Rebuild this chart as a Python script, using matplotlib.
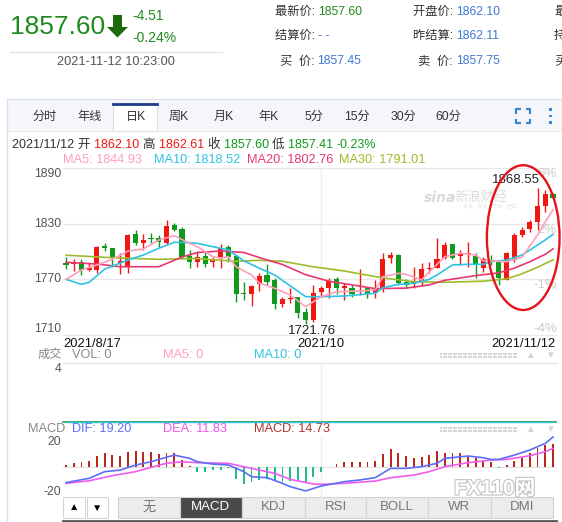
import numpy as np
import matplotlib
matplotlib.use("Agg")
import matplotlib.pyplot as plt
from matplotlib.patches import Rectangle, Polygon, Ellipse
import matplotlib.patheffects as pe

plt.rcParams['font.family'] = ['Liberation Sans', 'Noto Sans CJK SC', 'DejaVu Sans']

# ── data (daily K, 2021/8/17 .. 2021/11/12, 64 sessions) ─────────────────────
opens = [1787.9, 1786.2, 1788.4, 1780.1, 1780.1, 1805.9, 1803.5, 1788.0, 1783.6, 1818.5,
         1809.5, 1814.9, 1814.2, 1809.5, 1828.6, 1824.3, 1795.2, 1789.0, 1795.5, 1788.4,
         1793.8, 1805.2, 1795.5, 1755.0, 1753.9, 1764.7, 1774.7, 1769.3, 1743.1, 1748.5,
         1750.6, 1735.1, 1726.2, 1756.7, 1761.0, 1770.0, 1760.3, 1761.0, 1756.0, 1760.3,
         1755.0, 1759.6, 1792.7, 1796.2, 1767.5, 1764.6, 1767.5, 1780.8, 1782.5, 1793.3,
         1807.8, 1795.5, 1797.0, 1795.5, 1781.9, 1790.8, 1789.0, 1769.3, 1790.8, 1817.8,
         1824.3, 1832.1, 1849.0, 1862.10]
highs = [1794.4, 1791.9, 1791.6, 1787.3, 1805.9, 1808.8, 1804.0, 1798.1, 1818.9, 1823.2,
         1818.9, 1819.6, 1817.8, 1834.0, 1830.4, 1826.7, 1801.6, 1799.8, 1799.1, 1794.4,
         1808.1, 1807.0, 1796.2, 1767.5, 1763.5, 1776.5, 1786.2, 1771.1, 1751.3, 1760.3,
         1751.3, 1738.8, 1763.9, 1763.1, 1771.1, 1772.8, 1766.0, 1763.9, 1781.1, 1762.1,
         1769.3, 1798.1, 1799.8, 1797.3, 1770.3, 1783.6, 1787.9, 1788.4, 1814.2, 1809.9,
         1808.4, 1801.6, 1809.9, 1798.1, 1794.4, 1796.2, 1790.8, 1799.1, 1819.6, 1826.7,
         1834.0, 1868.55, 1866.3, 1862.61]
lows = [1781.1, 1778.9, 1774.7, 1779.0, 1776.5, 1800.9, 1783.0, 1775.4, 1776.5, 1807.0,
        1801.6, 1808.8, 1805.2, 1807.0, 1822.1, 1791.6, 1781.9, 1783.6, 1783.6, 1783.6,
        1781.9, 1789.0, 1745.3, 1747.7, 1741.6, 1757.8, 1763.9, 1737.7, 1740.5, 1744.2,
        1728.0, 1721.76, 1724.3, 1751.3, 1749.6, 1754.0, 1747.7, 1751.3, 1753.1, 1749.9,
        1750.2, 1756.4, 1787.3, 1763.9, 1760.3, 1760.3, 1763.9, 1776.5, 1781.9, 1791.9,
        1791.9, 1785.4, 1783.6, 1771.8, 1778.2, 1785.4, 1763.9, 1769.0, 1789.0, 1816.0,
        1821.3, 1823.2, 1842.9, 1857.41]
closes = [1785.8, 1787.3, 1780.1, 1781.9, 1805.2, 1803.5, 1792.7, 1790.0, 1817.8, 1809.5,
          1812.4, 1813.8, 1809.9, 1827.5, 1823.2, 1794.4, 1789.0, 1793.8, 1786.5, 1791.6,
          1803.5, 1794.4, 1753.9, 1753.9, 1763.1, 1773.6, 1767.5, 1743.1, 1748.8, 1749.6,
          1734.0, 1726.2, 1755.0, 1761.0, 1768.2, 1760.3, 1763.1, 1754.2, 1756.7, 1754.2,
          1759.6, 1791.6, 1796.2, 1766.4, 1763.9, 1767.5, 1780.8, 1782.2, 1791.9, 1807.0,
          1792.7, 1797.0, 1798.1, 1785.5, 1791.9, 1788.4, 1771.1, 1798.7, 1817.8, 1823.2,
          1831.5, 1849.0, 1862.1, 1857.60]

# moving averages (session number, value)
ma5_day = [1, 3, 5, 7, 9, 11, 13, 15, 17, 18, 20, 21, 22, 23, 25, 26, 28, 30, 32, 33,
           34, 36, 39, 41, 42, 44, 45, 47, 48, 50, 52, 54, 55, 58, 60, 62, 63, 64]
ma5_val = [1770.0, 1780.1, 1785.5, 1791.6, 1800.5, 1802.7, 1812.4, 1817.0, 1808.8, 1805.2,
           1794.4, 1792.7, 1794.4, 1783.6, 1774.7, 1766.0, 1760.3, 1753.1, 1740.5, 1745.9,
           1751.3, 1756.7, 1757.4, 1758.5, 1772.8, 1776.5, 1775.4, 1769.3, 1778.0, 1794.4,
           1798.1, 1796.2, 1790.0, 1789.0, 1794.0, 1817.8, 1832.0, 1844.93]
ma10_day = [1, 3, 4, 6, 9, 11, 13, 15, 17, 18, 20, 22, 24, 26, 28, 30, 32, 34, 37, 41,
            42, 44, 46, 48, 49, 51, 53, 55, 56, 58, 60, 61, 63, 64]
ma10_val = [1770.0, 1764.6, 1766.8, 1781.0, 1790.8, 1796.2, 1803.5, 1809.9, 1809.5, 1808.8,
            1805.2, 1801.6, 1790.0, 1782.0, 1774.7, 1763.0, 1751.3, 1751.3, 1752.0, 1755.0,
            1761.0, 1764.6, 1765.7, 1770.0, 1774.7, 1785.5, 1786.2, 1786.2, 1789.0, 1790.8,
            1796.2, 1801.5, 1812.4, 1818.52]
ma20_day = [1, 5, 8, 13, 16, 18, 21, 24, 26, 29, 32, 35, 38, 41, 45, 48, 50, 54, 57, 59,
            61, 63, 64]
ma20_val = [1788.4, 1786.5, 1783.6, 1783.6, 1794.0, 1799.0, 1800.5, 1799.0, 1793.5, 1786.0,
            1775.0, 1768.0, 1764.0, 1760.0, 1760.5, 1764.0, 1769.0, 1774.0, 1777.0, 1782.0,
            1789.0, 1797.0, 1802.76]
ma30_day = [1, 7, 13, 18, 20, 23, 26, 29, 33, 37, 42, 46, 50, 55, 58, 60, 62, 64]
ma30_val = [1796.0, 1793.3, 1791.6, 1792.5, 1791.0, 1789.5, 1790.5, 1789.5, 1783.5, 1779.0,
            1771.5, 1767.5, 1766.8, 1768.0, 1770.5, 1776.0, 1783.0, 1791.01]

volume = [0] * 64

macd_hist = [1.0, 2.2, 3.2, 3.7, 6.9, 8.6, 7.5, 7.1, 9.7, 10.1,
             9.7, 9.3, 8.2, 8.6, 8.6, 4.3, 0.3, -3.2, -3.7, -2.2,
             -2.2, -1.1, -8.0, -11.2, -9.7, -8.6, -8.0, -9.3, -9.7, -9.3,
             -8.6, -10.8, -6.9, -3.2, -0.3, 1.5, 3.2, 3.2, 3.2, 3.2,
             3.7, 8.0, 11.2, 8.6, 6.9, 5.8, 6.5, 7.5, 10.3, 8.6,
             8.6, 8.6, 6.5, 5.4, 3.7, 3.2, -0.6, 1.0, 3.7, 5.8,
             8.6, 12.3, 14.0, 14.73]
dif_day = [1, 4, 6, 8, 10, 12, 13, 15, 17, 18, 20, 22, 24, 25, 27, 29, 30, 32, 34, 37,
           39, 41, 43, 45, 47, 49, 50, 53, 55, 56, 57, 59, 61, 63, 64]
dif_val = [-10.3, -7.5, -3.2, -2.2, 1.1, 3.2, 4.7, 7.5, 5.4, 3.2, 1.7, 1.1, -3.2, -6.5,
           -7.1, -10.8, -12.9, -15.7, -12.5, -9.7, -8.6, -7.1, -1.1, -1.1, 0.0, 2.2, 5.4,
           6.9, 5.8, 4.7, 4.7, 7.5, 10.8, 15.1, 19.2]
dea_day = [1, 4, 7, 10, 12, 14, 16, 18, 22, 25, 28, 30, 33, 34, 37, 41, 43, 46, 48, 50,
           53, 56, 58, 61, 63, 64]
dea_val = [-10.8, -9.1, -5.8, -3.2, -0.4, 2.2, 3.2, 2.6, 2.2, -1.1, -4.3, -8.2, -11.2,
           -11.4, -10.8, -9.3, -7.1, -5.4, -3.2, 0.0, 2.6, 4.3, 4.7, 7.1, 9.7, 11.83]

price_ticks = [1890, 1830, 1770, 1710]
pct_labels = ["6%", "2%", "-1%", "-4%"]
date_labels = ["2021/8/17", "2021/10", "2021/11/12"]
month_start = 34          # first session of October

# ── colours ──────────────────────────────────────────────────────────────────
UP, DOWN = "#f01810", "#10991c"
C_MA5, C_MA10, C_MA20, C_MA30 = "#ff9fbb", "#2ec2e4", "#e8386f", "#9cbd2a"
GRID = "#e8e8e8"
TXT = "#333333"
BLUE = "#3f78d0"
QGREEN = "#1e8a1e"

W, H = 562, 522
fig = plt.figure(figsize=(W / 100, H / 100), dpi=100)
renderer = fig.canvas.get_renderer()


def px_rect(x0, y0, x1, y1):
    return [x0 / W, 1 - y1 / H, (x1 - x0) / W, (y1 - y0) / H]


# background layer in pixel coordinates
bg = fig.add_axes([0, 0, 1, 1])
bg.set_xlim(0, W)
bg.set_ylim(H, 0)
bg.axis("off")


def chain(x, y, parts, size, gap=0.0):
    """Write coloured pieces one after another on a line, left to right."""
    for s, col in parts:
        t = bg.text(x, y, s, color=col, fontsize=size, va="center", ha="left")
        bb = t.get_window_extent(renderer=renderer)
        x = bb.x1 + gap       # pixel == data unit on the background layer
    return x


# --- quote block -------------------------------------------------------------
bg.text(10.5, 26.5, "1857.60", color=QGREEN, fontsize=19, va="center", ha="left")
bg.add_patch(Polygon([(113, 15), (122, 15), (122, 27), (128, 27), (117.5, 37.5),
                      (107, 27), (113, 27)], closed=True, fc="#1d6a0b", ec="none"))
bg.text(132.5, 16.5, "-4.51", color=QGREEN, fontsize=10, va="center")
bg.text(132.5, 38, "-0.24%", color=QGREEN, fontsize=10, va="center")
bg.plot([10, 222], [51.7, 51.7], color="#dedede", lw=0.8)
bg.text(116, 62, "2021-11-12 10:23:00", color="#555555", fontsize=9.2, ha="center", va="center")

info = [
    (275, 12, "最新价: ", "1857.60", QGREEN),
    (275, 36, "结算价: ", "- -", BLUE),
    (279.5, 61.5, "买  价: ", "1857.45", BLUE),
    (413, 12, "开盘价: ", "1862.10", BLUE),
    (413, 36, "昨结算: ", "1862.11", BLUE),
    (418, 61.5, "卖  价: ", "1857.75", BLUE),
]
for x0, y0, lab, val, col in info:
    chain(x0, y0, [(lab, TXT), (val, col)], 8.8)
for y0, lab in [(12, "最"), (36, "持"), (61.5, "买")]:
    bg.text(554, y0, lab, color=TXT, fontsize=8.8, va="center")

# --- tab bar -----------------------------------------------------------------
bg.add_patch(Rectangle((6.7, 99), W, 31, fc="#f4f6f9", ec="none"))
bg.plot([6.7, W], [99, 99], color="#d8e0ea", lw=0.8)
bg.plot([6.7, W], [130.5, 130.5], color="#dfe5ec", lw=0.8)
bg.plot([6.7, 6.7], [99, H], color="#d8e2ee", lw=1)
bg.add_patch(Rectangle((113.3, 103.3), 44, 28, fc="white", ec="#d8e0ea", lw=0.8))
bg.plot([113.3, 157.3], [103.6, 103.6], color="#1c3d8a", lw=2)
tabs = [("分时", 45), ("年线", 90), ("日K", 135.5), ("周K", 179), ("月K", 224),
        ("年K", 269), ("5分", 313.6), ("15分", 357), ("30分", 403), ("60分", 448)]
for lab, xc in tabs:
    bg.text(xc, 117, lab, color="#333333", fontsize=8.7, ha="center", va="center")
# full-screen icon and menu dots
ic = "#3b86d6"
for cx, cy, dx, dy in [(516, 109, 1, 1), (530, 109, -1, 1), (516, 123, 1, -1), (530, 123, -1, -1)]:
    bg.plot([cx + 4.5 * dx, cx, cx], [cy, cy, cy + 4.5 * dy], color=ic, lw=1.6,
            solid_capstyle="butt")
for cy in (109.5, 116, 122.5):
    bg.add_patch(Rectangle((549, cy - 1.3), 2.6, 2.6, fc=ic, ec="none"))

# --- info line above price panel -----------------------------------------------
hdr = [("2021/11/12 ", TXT), ("开 ", TXT), ("1862.10 ", UP), ("高 ", TXT),
       ("1862.61 ", UP), ("收 ", TXT), ("1857.60 ", DOWN), ("低 ", TXT),
       ("1857.41 ", DOWN), ("-0.23%", DOWN)]
chain(12.5, 145, hdr, 9.0)
for xx, s, col in [(62.7, "MA5: 1844.93", C_MA5), (154, "MA10: 1818.52", C_MA10),
                   (247, "MA20: 1802.76", C_MA20), (338.7, "MA30: 1791.01", C_MA30)]:
    bg.text(xx, 160, s, color=col, fontsize=9.2, va="center")

# sina watermark
bg.text(424, 197.5, "sina", color="#d9d9d9", fontsize=10, fontweight="bold",
        style="italic", va="center", family="DejaVu Sans")
bg.text(454, 197.5, "新浪财经", color="#dcdcdc", fontsize=9.5, va="center")
bg.text(463, 206.5, "头条 · 资讯 · 行情 · 社区", color="#e6e6e6", fontsize=3.6, va="center")

# ── price panel ──────────────────────────────────────────────────────────────
x = np.arange(1, 65)
XLIM = (1 - 0.39, 64 + 0.39)
ax = fig.add_axes(px_rect(63, 168, 556, 335))
ax.set_xlim(*XLIM)
ax.set_ylim(1710, 1890)
ax.axis("off")
for p in price_ticks:
    ax.axhline(p, color=GRID, lw=0.9, zorder=0, clip_on=False)
ax.axvline(month_start, color="#eeeeee", lw=0.9, zorder=0)

o, h, l, c = map(np.array, (opens, highs, lows, closes))
cols = np.where(c >= o, UP, DOWN)
ax.vlines(x, l, h, colors=cols, lw=1.0, zorder=2)
body = np.maximum(np.abs(c - o), 0.7)
ax.bar(x, body, bottom=np.minimum(o, c), width=0.66, color=cols, lw=0, zorder=3)

ax.plot(ma30_day, ma30_val, color=C_MA30, lw=1.2, zorder=4)
ax.plot(ma20_day, ma20_val, color=C_MA20, lw=1.2, zorder=4)
ax.plot(ma10_day, ma10_val, color=C_MA10, lw=1.2, zorder=4)
ax.plot(ma5_day, ma5_val, color=C_MA5, lw=1.2, zorder=5)

ytr = ax.get_yaxis_transform()
for p, vat in zip(price_ticks, ["top", "center", "center", "bottom"]):
    ax.text(-0.004, p, str(p), transform=ytr, ha="right", va=vat, color="#555555",
            fontsize=8.8, clip_on=False)
for p, s, vat in zip(price_ticks, pct_labels, ["top", "top", "top", "bottom"]):
    ax.text(1.002, p, s, transform=ytr, ha="right", va=vat, color="#cccccc",
            fontsize=9.5, clip_on=False)

imax = int(np.argmax(h))
imin = int(np.argmin(l))
ax.annotate(f"{h[imax]:.2f}", xy=(x[imax], h[imax]), xytext=(-22, 8),
            textcoords="offset pixels", ha="center", va="center", color="#222222",
            fontsize=9.5, annotation_clip=False)
ax.annotate(f"{l[imin]:.2f}", xy=(x[imin], l[imin]), xytext=(6, -7),
            textcoords="offset pixels", ha="center", va="center", color="#222222",
            fontsize=9.5, annotation_clip=False)

ax.add_patch(Ellipse((60.15, 1815), 9.4, 156, fc="none", ec="#e8121a", lw=1.7,
                     clip_on=False, zorder=6))

xtr = ax.get_xaxis_transform()
ax.text(0, -0.054, date_labels[0], transform=ax.transAxes, ha="left", va="center",
        fontsize=9.3, color="#111111", clip_on=False)
ax.text(month_start, -0.054, date_labels[1], transform=xtr, ha="center", va="center",
        fontsize=9.3, color="#111111", clip_on=False)
ax.text(1, -0.054, date_labels[2], transform=ax.transAxes, ha="right", va="center",
        fontsize=9.3, color="#111111", clip_on=False)

# ── volume panel (empty) ─────────────────────────────────────────────────────
axv = fig.add_axes(px_rect(63, 363.3, 556, 422.3))
axv.set_xlim(*XLIM)
axv.set_ylim(0, 4)
axv.axis("off")
axv.axhline(4, color="#e4e4e4", lw=0.9, clip_on=False)
axv.axvline(month_start, color="#eeeeee", lw=0.9, zorder=0)
axv.bar(x, volume, width=0.66, color=cols)
axv.axhline(0, color="#2a9a3a", lw=1.2, clip_on=False)
axv.plot(x, volume, color=C_MA10, lw=1.0, clip_on=False)
axv.text(-0.004, 4, "4", transform=axv.get_yaxis_transform(), ha="right", va="top",
         color="#555555", fontsize=8.8)

bg.text(38, 355, "成交", color="#888888", fontsize=8.8, va="center")
bg.text(71.7, 355, "VOL: 0", color="#888888", fontsize=9.2, va="center")
bg.text(163, 355, "MA5: 0", color=C_MA5, fontsize=9.2, va="center")
bg.text(253.8, 355, "MA10: 0", color=C_MA10, fontsize=9.2, va="center")

# ── MACD panel ───────────────────────────────────────────────────────────────
axm = fig.add_axes(px_rect(63, 435.8, 556, 497.6))
axm.set_xlim(*XLIM)
axm.set_ylim(-20, 20)
axm.axis("off")
axm.axhline(0, color="#e2e2e2", lw=0.9, zorder=0)
axm.axvline(month_start, color="#eeeeee", lw=0.9, zorder=0)
hist = np.array(macd_hist)
axm.bar(x, hist, width=0.24, color=np.where(hist >= 0, "#b9281f", "#1fbd8c"), lw=0)
axm.plot(dea_day, dea_val, color="#f05cee", lw=1.2)
axm.plot(dif_day, dif_val, color="#5a6ef6", lw=1.2)
mtr = axm.get_yaxis_transform()
axm.text(-0.004, 20, "20", transform=mtr, ha="right", va="top", color="#555555",
         fontsize=8.8, clip_on=False)
axm.text(-0.004, -20, "-20", transform=mtr, ha="right", va="bottom", color="#555555",
         fontsize=8.8, clip_on=False)

bg.text(28, 429, "MACD", color="#888888", fontsize=9.2, va="center")
bg.text(71.7, 429, f"DIF: {dif_val[-1]:.2f}", color="#5a6ef6", fontsize=9.2, va="center")
bg.text(163, 429, f"DEA: {dea_val[-1]:.2f}", color="#ee55ee", fontsize=9.2, va="center")
bg.text(253.8, 429, f"MACD: {macd_hist[-1]:.2f}", color="#b0302c", fontsize=9.2, va="center")

# dotted handles + arrows at right of sub-panel headers
for yy in (355, 429):
    for r in (-1.5, 1.5):
        bg.scatter(np.arange(441, 517, 2.5), np.full(31, yy + r), s=0.6, c="#d6d6d6",
                   marker="s", lw=0)
    bg.text(530, yy, "▲", color="#d4d4d4", fontsize=7, ha="center", va="center")
    bg.text(550, yy, "▼", color="#d4d4d4", fontsize=7, ha="center", va="center")

# FX110 watermark
bg.text(495, 489, "FX110网", color="white", fontsize=15, fontweight="bold",
        ha="center", va="center",
        path_effects=[pe.withStroke(linewidth=1.6, foreground="#c4c4c4")])

# ── indicator tab row ────────────────────────────────────────────────────────
bg.add_patch(Rectangle((63, 496.7), 22, 21.6, fc="white", ec="#d6d6d6", lw=0.8))
bg.add_patch(Rectangle((86.7, 496.7), 21.6, 21.6, fc="white", ec="#d6d6d6", lw=0.8))
bg.text(74, 507.5, "▲", color="black", fontsize=7.5, ha="center", va="center")
bg.text(97.5, 507.5, "▼", color="black", fontsize=7.5, ha="center", va="center")
ind_tabs = [("无", 118.3, 179.5), ("MACD", 179.5, 242), ("KDJ", 242, 305), ("RSI", 305, 366),
            ("BOLL", 366, 428), ("WR", 428, 491), ("DMI", 491, 552.5)]
for lab, x0, x1 in ind_tabs:
    sel = lab == "MACD"
    bg.add_patch(Rectangle((x0, 496.7), x1 - x0, 21.6, fc="#4a4a4a" if sel else "#ececec",
                           ec="#d4d4d4", lw=0.8))
    bg.text((x0 + x1) / 2, 507.5, lab, color="white" if sel else "#777777", fontsize=9.5,
            ha="center", va="center")
bg.plot([63, 556], [520.5, 520.5], color="#555555", lw=2)

fig.savefig("out.png", dpi=100)
